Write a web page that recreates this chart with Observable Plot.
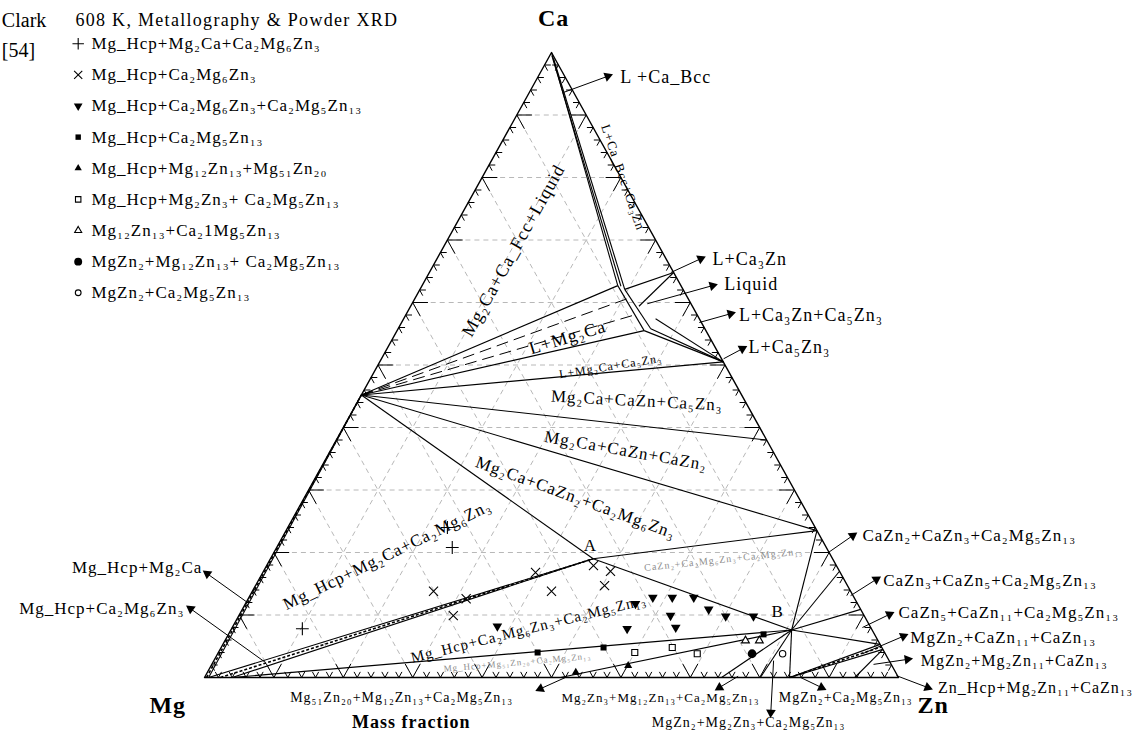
<!DOCTYPE html>
<html>
<head>
<meta charset="utf-8">
<script src="https://cdn.jsdelivr.net/npm/d3@7"></script>
<script src="https://cdn.jsdelivr.net/npm/@observablehq/plot@0.6"></script>
<style>
  html, body { margin: 0; padding: 0; background: #fff; }
  #chart svg { display: block; }
  #chart text { letter-spacing: 1px; }
</style>
</head>
<body>
<div id="chart"></div>
<script>
// Isothermal section of Mg–Ca–Zn at 608 K, compositions in wt.% (balance Mg).

// Corners and stoichiometric compounds
const compoundNames = ["Mg", "Zn", "Ca", "Mg2Ca", "Ca3Zn", "Ca5Zn3", "CaZn", "CaZn2", "CaZn3", "CaZn5",
  "CaZn11", "CaZn13", "Ca2Mg6Zn3", "Ca2Mg5Zn13", "Mg51Zn20", "Mg12Zn13", "Mg2Zn3", "MgZn2", "Mg2Zn11"];
const compoundCa = [0, 0, 100, 45.2, 64.8, 50.5, 38.0, 23.5, 17.0, 10.9, 5.3, 4.5, 19.0, 7.6, 0, 0, 0, 0, 0];
const compoundZn = [0, 100, 0, 0, 35.2, 49.5, 62.0, 76.5, 83.0, 89.1, 94.7, 95.5, 46.5, 80.8, 51.3, 74.5, 80.1, 84.3, 93.7];

// Liquid corners and solubility limits of the solution phases
const vertexNames = ["CaS1", "CaS2", "L1", "L2", "L3", "L4", "L5", "L6", "L7", "Lt1", "Lt2",
  "Hcp0", "Hcp1", "Hcp2", "Hcp3", "CaZnMid"];
const vertexCa = [99.5, 99.0, 62.7, 62.6, 62.1, 55.5, 55.8, 59.4, 57.4, 60.6, 58.1, 0, 0, 0, 0, 4.9];
const vertexZn = [0.3, 0.8, 28.2, 28.7, 29.5, 35.6, 36.4, 32.9, 36.3, 30.6, 33.2, 0.3, 0.6, 2.3, 4.0, 95.1];

// Phase boundaries and tie triangles (pairs of vertices)
const phaseBoundaries = [
  ["Ca", "L1"], ["CaS1", "L2"], ["CaS2", "L3"], ["L1", "L4"], ["L3", "L5"],
  ["L3", "Ca3Zn"], ["L6", "Ca3Zn"], ["L4", "Ca5Zn3"], ["L5", "Ca5Zn3"], ["L7", "Ca5Zn3"],
  ["Mg2Ca", "L1"], ["Mg2Ca", "L4"], ["Mg2Ca", "Ca5Zn3"], ["Mg2Ca", "CaZn"], ["Mg2Ca", "CaZn2"], ["Mg2Ca", "Ca2Mg6Zn3"],
  ["Ca2Mg6Zn3", "CaZn2"], ["Ca2Mg6Zn3", "Ca2Mg5Zn13"],
  ["Hcp1", "Mg2Ca"], ["Hcp1", "Ca2Mg6Zn3"], ["Hcp3", "Ca2Mg6Zn3"], ["Hcp3", "Ca2Mg5Zn13"],
  ["Mg51Zn20", "Ca2Mg5Zn13"], ["Mg12Zn13", "Ca2Mg5Zn13"], ["Mg2Zn3", "Ca2Mg5Zn13"], ["MgZn2", "Ca2Mg5Zn13"],
  ["CaZn2", "Ca2Mg5Zn13"], ["CaZn3", "Ca2Mg5Zn13"], ["CaZn5", "Ca2Mg5Zn13"], ["CaZn11", "Ca2Mg5Zn13"],
  ["MgZn2", "CaZn11"], ["MgZn2", "CaZn13"], ["Mg2Zn11", "CaZn13"]
];
// Tie lines inside the L + Mg2Ca field
const liquidTieLines = [["Mg2Ca", "Lt1"], ["Mg2Ca", "Lt2"]];
// Narrow two-phase strips, drawn hatched
const hatchedStrips = [["Hcp0", "Mg2Ca"], ["Hcp2", "Ca2Mg6Zn3"], ["MgZn2", "CaZnMid"]];

// Annealed alloys (metallography & powder XRD) and the phases found in them
const assemblages = [
  "Mg_Hcp+Mg₂Ca+Ca₂Mg₆Zn₃",
  "Mg_Hcp+Ca₂Mg₆Zn₃",
  "Mg_Hcp+Ca₂Mg₆Zn₃+Ca₂Mg₅Zn₁₃",
  "Mg_Hcp+Ca₂Mg₅Zn₁₃",
  "Mg_Hcp+Mg₁₂Zn₁₃+Mg₅₁Zn₂₀",
  "Mg_Hcp+Mg₂Zn₃+ Ca₂Mg₅Zn₁₃",
  "Mg₁₂Zn₁₃+Ca₂1Mg₅Zn₁₃",
  "MgZn₂+Mg₁₂Zn₁₃+ Ca₂Mg₅Zn₁₃",
  "MgZn₂+Ca₂Mg₅Zn₁₃"
];
const sampleAssemblage = [0, 0, 0,
  1, 1, 1, 1, 1, 1, 1, 1,
  2, 2, 2, 2, 2, 2, 2, 2, 2, 2, 2,
  3, 3, 3,
  4, 4,
  5, 5, 5,
  6, 6,
  7,
  8];
const sampleCa = [24.0, 20.8, 7.8,
  13.8, 12.6, 9.9, 16.8, 13.8, 17.9, 17.0, 14.7,
  11.8, 12.8, 12.8, 12.8, 10.9, 9.8, 9.8, 9.9, 7.8, 8.0, 8.2,
  4.0, 4.8, 6.9,
  0.8, 1.9,
  4.0, 4.8, 3.8,
  5.9, 5.9,
  3.8,
  3.8];
const sampleZn = [23.0, 25.3, 10.2,
  26.1, 31.4, 30.9, 39.3, 43.1, 47.1, 50.0, 50.3,
  56.2, 58.2, 61.0, 64.1, 67.2, 70.2, 74.2, 62.2, 57.0, 63.9, 38.1,
  46.0, 55.1, 77.1,
  53.1, 60.1,
  60.0, 65.0, 69.1,
  75.0, 77.0,
  77.0,
  81.4];

// ---- layout ----
const W = 1134, H = 735, ML = 204, MR = 236, MT = 52, MB = 58;
const SX = (W - ML - MR) / 100, SY = (H - MT - MB) / 100;
const FONT = "'Liberation Serif', 'Times New Roman', serif";

// ternary (wt.% Ca, wt.% Zn) -> triangle frame
const tern = (ca, zn) => ({x: zn + ca / 2, y: ca});
const vertex = new Map();
compoundNames.forEach((n, i) => vertex.set(n, tern(compoundCa[i], compoundZn[i])));
vertexNames.forEach((n, i) => vertex.set(n, tern(vertexCa[i], vertexZn[i])));
const segs = pairs => pairs.map(([a, b]) => ({x1: vertex.get(a).x, y1: vertex.get(a).y, x2: vertex.get(b).x, y2: vertex.get(b).y}));

// grid lines at every 10 wt.%
const gridSteps = d3.range(10, 100, 10);
const grid = gridSteps.flatMap(k => [
  {a: tern(k, 0), b: tern(k, 100 - k)},          // constant Ca
  {a: tern(0, k), b: tern(100 - k, k)},          // constant Zn
  {a: tern(0, 100 - k), b: tern(100 - k, 0)}     // constant Mg
]).map(({a, b}) => ({x1: a.x, y1: a.y, x2: b.x, y2: b.y}));

// tick marks: V-shaped, along the two grid directions through each edge point
const tickSteps = d3.range(2, 100, 2);
const ticks = tickSteps.flatMap(t => {
  const L = t % 10 === 0 ? 2.2 : 0.9;
  const pairs = [
    [[0, t], [L, t]], [[0, t], [L, t - L]],                             // Mg–Zn edge
    [[t, 0], [t, L]], [[t, 0], [t - L, L]],                             // Mg–Ca edge
    [[t, 100 - t], [t, 100 - t - L]], [[t, 100 - t], [t - L, 100 - t]]  // Ca–Zn edge
  ];
  return pairs.map(([p, q]) => {
    const a = tern(p[0], p[1]), b = tern(q[0], q[1]);
    return {x1: a.x, y1: a.y, x2: b.x, y2: b.y};
  });
});

const outline = ["Mg", "Zn", "Ca", "Mg"].map(n => vertex.get(n));

// experimental points
const samples = sampleAssemblage.map((s, i) => ({set: s, ...tern(sampleCa[i], sampleZn[i])}));
const symbolStyle = [
  {symbol: "plus", fill: "none", stroke: "black", r: 4.2},
  {symbol: "times", fill: "none", stroke: "black", r: 4.2},
  {symbol: "triangle", fill: "black", stroke: "none", r: 3.6, rotate: 180},
  {symbol: "square", fill: "black", stroke: "none", r: 3.4},
  {symbol: "triangle", fill: "black", stroke: "none", r: 3.0},
  {symbol: "square", fill: "white", stroke: "black", r: 3.4},
  {symbol: "triangle", fill: "white", stroke: "black", r: 2.9},
  {symbol: "circle", fill: "black", stroke: "none", r: 4.4},
  {symbol: "circle", fill: "white", stroke: "black", r: 3.2}
];

// legend rows (frame units)
const legendX = -18.2, legendTextX = -16.3, legendTop = 101.4, legendStep = 4.98;
const legendRows = assemblages.map((t, i) => ({set: i, text: t, x: legendX, tx: legendTextX, y: legendTop - i * legendStep}));

// labelled arrows: tail inside the field, filled head next to the label
const callouts = [
  {text: "L +Ca_Bcc", tx: 51.7, ty: 93.6, hx: 58.1, hy: 96.2, lx: 59.9, ly: 96.0, anchor: "start", size: 18},
  {text: "L+Ca₃Zn", tx: 67.2, ty: 64.8, hx: 71.5, hy: 67.0, lx: 73.2, ly: 67.0, anchor: "start", size: 18},
  {text: "Liquid", tx: 63.8, ty: 59.8, hx: 73.2, hy: 62.7, lx: 74.9, ly: 63.0, anchor: "start", size: 18},
  {text: "L+Ca₃Zn+Ca₅Zn₃", tx: 71.3, ty: 56.8, hx: 75.8, hy: 58.2, lx: 77.0, ly: 57.9, anchor: "start", size: 18},
  {text: "L+Ca₅Zn₃", tx: 74.8, ty: 51.0, hx: 77.5, hy: 52.6, lx: 78.4, ly: 52.8, anchor: "start", size: 18},
  {text: "CaZn₂+CaZn₃+Ca₂Mg₅Zn₁₃", tx: 89.9, ty: 20.0, hx: 93.4, hy: 22.7, lx: 94.8, ly: 22.7, anchor: "start", size: 17},
  {text: "CaZn₃+CaZn₅+Ca₂Mg₅Zn₁₃", tx: 93.1, ty: 13.1, hx: 96.8, hy: 15.7, lx: 97.8, ly: 15.5, anchor: "start", size: 17},
  {text: "CaZn₅+CaZn₁₁+Ca₂Mg₅Zn₁₃", tx: 94.8, ty: 8.0, hx: 98.7, hy: 10.1, lx: 100.0, ly: 10.4, anchor: "start", size: 17},
  {text: "MgZn₂+CaZn₁₁+CaZn₁₃", tx: 94.8, ty: 3.8, hx: 100.7, hy: 6.6, lx: 101.7, ly: 6.4, anchor: "start", size: 17},
  {text: "MgZn₂+Mg₂Zn₁₁+CaZn₁₃", tx: 96.4, ty: 2.1, hx: 101.3, hy: 2.9, lx: 103.2, ly: 2.6, anchor: "start", size: 16},
  {text: "Zn_Hcp+Mg₂Zn₁₁+CaZn₁₃", tx: 99.7, ty: 0.3, hx: 104.2, hy: -1.6, lx: 105.7, ly: -1.6, anchor: "start", size: 16},
  {text: "Mg_Hcp+Mg₂Ca", tx: 6.2, ty: 12.0, hx: 0.4, hy: 16.6, lx: -0.3, ly: 17.6, anchor: "end", size: 17},
  {text: "Mg_Hcp+Ca₂Mg₆Zn₃", tx: 8.8, ty: 2.4, hx: -2.0, hy: 11.0, lx: -2.9, ly: 11.0, anchor: "end", size: 17},
  {text: "Mg₅₁Zn₂₀+Mg₁₂Zn₁₃+Ca₂Mg₅Zn₁₃", tx: 52.0, ty: 0.0, hx: 48.4, hy: -1.8, lx: 28.4, ly: -3.2, anchor: "middle", size: 14},
  {text: "Mg₂Zn₃+Mg₁₂Zn₁₃+Ca₂Mg₅Zn₁₃", tx: 76.9, ty: 0.2, hx: 74.2, hy: -1.6, lx: 65.7, ly: -3.2, anchor: "middle", size: 13},
  {text: "MgZn₂+Ca₂Mg₅Zn₁₃", tx: 85.9, ty: 0.0, hx: 88.9, hy: -1.6, lx: 92.4, ly: -3.2, anchor: "middle", size: 14},
  {text: "MgZn₂+Mg₂Zn₃+Ca₂Mg₅Zn₁₃", tx: 82.0, ty: 2.7, hx: 81.6, hy: -5.6, lx: 78.4, ly: -7.2, anchor: "middle", size: 14}
];
const headAngle = c => Math.atan2(-(c.hy - c.ty) * SY, (c.hx - c.tx) * SX) * 180 / Math.PI + 90;

// field labels written inside the section
const fieldLabels = [
  {text: "Mg₂Ca+Ca_Fcc+Liquid", x: 44.5, y: 68.3, rotate: -61, size: 18},
  {text: "L+Ca_Bcc+Ca₃Zn", x: 60.3, y: 80.0, rotate: 71, size: 13},
  {text: "L+Mg₂Ca", x: 52.3, y: 54.4, rotate: -17, size: 18},
  {text: "L+Mg₂Ca+Ca₅Zn₃", x: 58.5, y: 49.8, rotate: -9, size: 12},
  {text: "Mg₂Ca+CaZn+Ca₅Zn₃", x: 62.3, y: 44.3, rotate: 3, size: 17},
  {text: "Mg₂Ca+CaZn+CaZn₂", x: 60.7, y: 36.3, rotate: 10, size: 17},
  {text: "Mg₂Ca+CaZn₂+Ca₂Mg₆Zn₃", x: 53.5, y: 28.8, rotate: 20, size: 17},
  {text: "Mg_Hcp+Mg₂Ca+Ca₂Mg₆Zn₃", x: 26.3, y: 19.6, rotate: -26, size: 17},
  {text: "Mg_Hcp+Ca₂Mg₆Zn₃+Ca₂Mg₅Zn₁₃", x: 46.7, y: 7.8, rotate: -14, size: 15},
  {text: "A", x: 55.6, y: 21.1, rotate: 0, size: 17},
  {text: "B", x: 82.6, y: 10.6, rotate: 0, size: 17}
];
const faintLabels = [
  {text: "Mg_Hcp+Mg₅₁Zn₂₀+Ca₂Mg₅Zn₁₃", x: 45.1, y: 2.4, rotate: -5, size: 9},
  {text: "CaZn₂+Ca₂Mg₆Zn₃+Ca₂Mg₅Zn₁₃", x: 74.8, y: 18.9, rotate: -6, size: 10}
];
const cornerLabels = [
  {text: "Ca", x: 50.3, y: 105.4},
  {text: "Mg", x: -5.3, y: -4.5},
  {text: "Zn", x: 105.0, y: -4.5}
];
const titleLabel = [{text: "608 K, Metallography & Powder XRD", x: -18.6, y: 105.1}];
const sourceLabels = [
  {text: "Clark", x: -29.2, y: 105.1},
  {text: "[54]", x: -29.2, y: 100.3}
];

const link = (data, opts) => Plot.link(data, {x1: "x1", y1: "y1", x2: "x2", y2: "y2", ...opts});
const byAnchor = a => callouts.filter(c => c.anchor === a);

const marks = [
  link(grid, {stroke: "#b8b8b8", strokeWidth: 1, strokeDasharray: "5,4"}),
  link(ticks, {stroke: "black", strokeWidth: 1}),
  Plot.line(outline, {x: "x", y: "y", stroke: "black", strokeWidth: 1.4}),
  link(segs(phaseBoundaries), {stroke: "black", strokeWidth: 1.1}),
  link(segs(liquidTieLines), {stroke: "black", strokeWidth: 1, strokeDasharray: "12,6"}),
  link(segs(hatchedStrips), {stroke: "black", strokeWidth: 1.6, strokeDasharray: "3,2"}),
  Plot.text(faintLabels, {x: "x", y: "y", text: "text", rotate: "rotate", fontSize: d => d.size, fill: "#8c8c8c"}),
  Plot.text(fieldLabels, {x: "x", y: "y", text: "text", rotate: "rotate", fontSize: d => d.size, fill: "black"}),
  // callout arrows
  link(callouts.map(c => ({x1: c.tx, y1: c.ty, x2: c.hx, y2: c.hy})), {stroke: "black", strokeWidth: 1}),
  Plot.dot(callouts, {x: "hx", y: "hy", symbol: "triangle", r: 3.6, fill: "black", stroke: "none", rotate: headAngle}),
  ...["start", "end", "middle"].map(a =>
    Plot.text(byAnchor(a), {x: "lx", y: "ly", text: "text", textAnchor: a, fontSize: d => d.size, fill: "black"})),
  Plot.text(cornerLabels, {x: "x", y: "y", text: "text", fontSize: 24, fontWeight: "bold", fill: "black"}),
  Plot.text([{text: "Mass fraction", x: 29.8, y: -7.2}], {x: "x", y: "y", text: "text", fontSize: 18, fontWeight: "bold", fill: "black"}),
  Plot.text(titleLabel, {x: "x", y: "y", text: "text", textAnchor: "start", fontSize: 18, fill: "black"}),
  Plot.text(sourceLabels, {x: "x", y: "y", text: "text", textAnchor: "start", fontSize: 20, fill: "black"}),
  Plot.text(legendRows, {x: "tx", y: "y", text: "text", textAnchor: "start", fontSize: 17, fill: "black"})
];

// experimental points and the matching legend symbols
symbolStyle.forEach((s, i) => {
  const {r, ...style} = s;
  marks.push(Plot.dot(samples.filter(d => d.set === i), {x: "x", y: "y", r, strokeWidth: 1.1, ...style}));
  marks.push(Plot.dot(legendRows.filter(d => d.set === i), {x: "x", y: "y", r: r * 0.9, strokeWidth: 1.1, ...style}));
});

const chart = Plot.plot({
  width: W, height: H,
  marginLeft: ML, marginRight: MR, marginTop: MT, marginBottom: MB,
  x: {domain: [0, 100], axis: null},
  y: {domain: [0, 100], axis: null},
  style: {fontFamily: FONT, background: "white", color: "black"},
  marks
});
// the heading and source lines are set a little more loosely than the labels
d3.select(chart).selectAll("text")
  .filter(function () { return this.textContent.startsWith("608 K"); })
  .style("letter-spacing", "1.3px");
d3.select(chart).selectAll("text")
  .filter(function () { return this.textContent === "Clark" || this.textContent === "[54]"; })
  .style("letter-spacing", "0px");
document.getElementById("chart").append(chart);
</script>
</body>
</html>
